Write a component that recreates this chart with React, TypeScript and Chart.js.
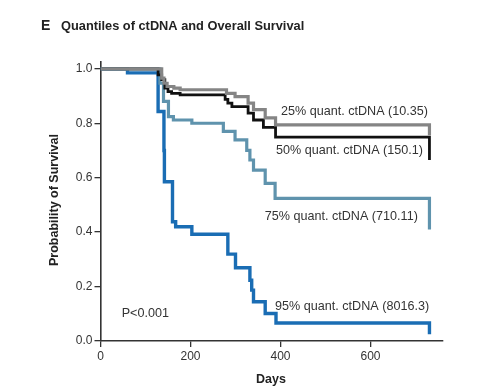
import React, { useEffect, useRef } from "react";
import { Chart, registerables } from "chart.js";

Chart.register(...registerables);

// Kaplan-Meier step curves (day, survival)
const q25Days = [0, 136, 141, 148, 163, 177, 280, 299, 328, 340, 366, 389, 731];
const q25Surv = [1.0, 0.966, 0.947, 0.935, 0.929, 0.923, 0.91, 0.898, 0.874, 0.85, 0.82, 0.794, 0.755];

const q50Days = [0, 128, 136, 143, 150, 158, 177, 277, 283, 292, 328, 340, 362, 389, 731];
const q50Surv = [1.0, 0.978, 0.96, 0.929, 0.916, 0.91, 0.904, 0.888, 0.874, 0.861, 0.837, 0.812, 0.785, 0.749, 0.665];

const q75Days = [0, 132, 140, 151, 162, 203, 273, 299, 325, 332, 340, 366, 388, 731];
const q75Surv = [1.0, 0.947, 0.88, 0.824, 0.812, 0.8, 0.77, 0.739, 0.7, 0.665, 0.628, 0.579, 0.524, 0.41];

const q95Days = [0, 60, 128, 141, 142, 160, 167, 203, 283, 300, 332, 336, 340, 366, 390, 731];
const q95Surv = [1.0, 0.985, 0.843, 0.7, 0.585, 0.438, 0.42, 0.392, 0.319, 0.269, 0.223, 0.187, 0.144, 0.101, 0.066, 0.025];

const seriesLabels = [
  "25% quant. ctDNA (10.35)",
  "50% quant. ctDNA (150.1)",
  "75% quant. ctDNA (710.11)",
  "95% quant. ctDNA (8016.3)",
];
// label anchor (day, survival) for each series
const labelDays = [401, 390, 365, 388];
const labelSurv = [0.842, 0.70, 0.459, 0.125];

const xTicks = [0, 200, 400, 600];
const yTicks = [0, 0.2, 0.4, 0.6, 0.8, 1.0];

const titleLetter = "E";
const titleText = "Quantiles of ctDNA and Overall Survival";
const xTitle = "Days";
const yTitle = "Probability of Survival";
const pText = "P<0.001";
const pDay = 47;
const pSurv = 0.1;

const toPts = (d: number[], s: number[]) => d.map((x, i) => ({ x, y: s[i] }));

export default function App() {
  const ref = useRef<HTMLCanvasElement | null>(null);
  useEffect(() => {
    if (!ref.current) return;
    const textPlugin = {
      id: "texts",
      afterDraw(chart: any) {
        const ctx = chart.ctx;
        const xs = chart.scales.x;
        const ys = chart.scales.y;
        ctx.save();
        ctx.textBaseline = "middle";
        ctx.fillStyle = "#222";
        ctx.font = "bold 14px 'Liberation Sans'";
        ctx.textAlign = "left";
        ctx.fillText(titleLetter, 41, 26);
        ctx.font = "bold 12.8px 'Liberation Sans'";
        ctx.fillText(titleText, 61, 26);
        ctx.font = "bold 12.5px 'Liberation Sans'";
        ctx.textAlign = "center";
        ctx.fillText(xTitle, 271, 380);
        ctx.save();
        ctx.translate(55, 200);
        ctx.rotate(-Math.PI / 2);
        ctx.fillText(yTitle, 0, 0);
        ctx.restore();
        ctx.font = "12.6px 'Liberation Sans'";
        ctx.fillStyle = "#333";
        ctx.textAlign = "left";
        for (let i = 0; i < seriesLabels.length; i++) {
          ctx.fillText(seriesLabels[i], xs.getPixelForValue(labelDays[i]), ys.getPixelForValue(labelSurv[i]));
        }
        ctx.fillText(pText, xs.getPixelForValue(pDay), ys.getPixelForValue(pSurv));
        ctx.restore();
      },
    };
    const chart = new Chart(ref.current, {
      type: "line",
      data: {
        datasets: [
          { label: seriesLabels[0], data: toPts(q25Days, q25Surv), borderColor: "#858585", borderWidth: 3.2 },
          { label: seriesLabels[1], data: toPts(q50Days, q50Surv), borderColor: "#111111", borderWidth: 2.8 },
          { label: seriesLabels[2], data: toPts(q75Days, q75Surv), borderColor: "#5f93ad", borderWidth: 3.2 },
          { label: seriesLabels[3], data: toPts(q95Days, q95Surv), borderColor: "#1a6db4", borderWidth: 3.4 },
        ].map((d) => ({ ...d, stepped: "before" as const, pointRadius: 0, fill: false, tension: 0 })),
      },
      options: {
        responsive: false,
        animation: false,
        layout: { padding: { left: 60, right: 46.5, top: 62, bottom: 0 } },
        plugins: { legend: { display: false }, tooltip: { enabled: false }, title: { display: false } },
        scales: {
          x: {
            type: "linear",
            min: 0,
            max: 760,
            afterBuildTicks: (s: any) => { s.ticks = xTicks.map((v) => ({ value: v })); },
            afterFit: (s: any) => { s.height = 49; },
            grid: { display: true, drawOnChartArea: false, drawTicks: true, tickLength: 6, color: "#333", lineWidth: 1.3 },
            border: { display: true, color: "#333", width: 1.6 },
            ticks: { color: "#333", font: { family: "'Liberation Sans'", size: 12 }, padding: 2, maxRotation: 0 },
          },
          y: {
            type: "linear",
            min: 0,
            max: 1.025,
            afterBuildTicks: (s: any) => { s.ticks = yTicks.map((v) => ({ value: v })); },
            afterFit: (s: any) => { s.width = 40.5; },
            grid: { display: true, drawOnChartArea: false, drawTicks: true, tickLength: 6, color: "#333", lineWidth: 1.3 },
            border: { display: true, color: "#333", width: 1.6 },
            ticks: { color: "#333", font: { family: "'Liberation Sans'", size: 12 }, padding: 2, callback: (v: any) => Number(v).toFixed(1) },
          },
        },
      },
      plugins: [textPlugin],
    });
    return () => chart.destroy();
  }, []);
  return (
    <div style={{ position: "fixed", left: 0, top: 0, width: 489, height: 390, background: "#fff" }}>
      <canvas ref={ref} width={489} height={390} style={{ width: 489, height: 390, display: "block" }} />
    </div>
  );
}
